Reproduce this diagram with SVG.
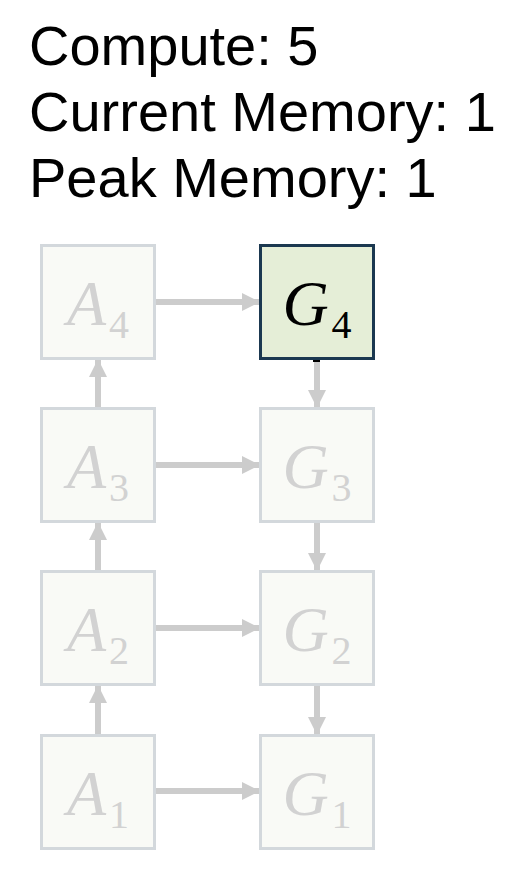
<svg xmlns="http://www.w3.org/2000/svg" width="526" height="870" viewBox="0 0 526 870">
<defs>
<marker id="ah" markerUnits="userSpaceOnUse" markerWidth="18" markerHeight="18" viewBox="0 0 18 18" refX="18" refY="9" orient="auto">
<path d="M0,0 L18,9 L0,18 Z" fill="#cccccc"/>
</marker>
<style>
.hdr{font-family:"Liberation Sans",Arial,sans-serif;font-size:56px;fill:#000}
.box{fill:#f9faf6;stroke:#d3d8dc;stroke-width:3}
.act{fill:#e5eed7;stroke:#1b3850;stroke-width:3}
.lbl{font-family:"Liberation Serif","DejaVu Serif",serif;font-size:64px;font-style:italic;fill:#d2d2d2;text-anchor:middle}
.lbl .sub{font-style:normal;font-size:40px}
.on{fill:#000}
.conn{stroke:#cccccc;stroke-width:6;fill:none;marker-end:url(#ah)}
</style>
</defs>
<text class="hdr" x="29" y="65">Compute: 5</text>
<text class="hdr" x="29" y="131">Current Memory: 1</text>
<text class="hdr" x="29" y="197">Peak Memory: 1</text>
<g id="connectors">
<path class="conn" d="M155,302 H260"/>
<path class="conn" d="M155,465 H260"/>
<path class="conn" d="M155,628 H260"/>
<path class="conn" d="M155,791 H260"/>
<path class="conn" d="M98,408 V359"/>
<path class="conn" d="M98,571 V522"/>
<path class="conn" d="M98,735 V685"/>
<path class="conn" d="M317,359 V408"/>
<path class="conn" d="M317,522 V571"/>
<path class="conn" d="M317,685 V735"/>
<rect x="313" y="359" width="7" height="3" fill="#000"/>
</g>
<g id="A4"><rect class="box" x="41.5" y="245.5" width="113" height="113"/><text class="lbl" x="98" y="325">A<tspan class="sub" dx="3" dy="13">4</tspan></text></g>
<g id="A3"><rect class="box" x="41.5" y="408.5" width="113" height="113"/><text class="lbl" x="98" y="488">A<tspan class="sub" dx="3" dy="13">3</tspan></text></g>
<g id="A2"><rect class="box" x="41.5" y="571.5" width="113" height="113"/><text class="lbl" x="98" y="651">A<tspan class="sub" dx="3" dy="13">2</tspan></text></g>
<g id="A1"><rect class="box" x="41.5" y="735.5" width="113" height="113"/><text class="lbl" x="98" y="815">A<tspan class="sub" dx="3" dy="13">1</tspan></text></g>
<g id="G4"><rect class="act" x="260.5" y="245.5" width="113" height="113"/><text class="lbl on" x="317" y="325">G<tspan class="sub" dx="3" dy="13">4</tspan></text></g>
<g id="G3"><rect class="box" x="260.5" y="408.5" width="113" height="113"/><text class="lbl" x="317" y="488">G<tspan class="sub" dx="3" dy="13">3</tspan></text></g>
<g id="G2"><rect class="box" x="260.5" y="571.5" width="113" height="113"/><text class="lbl" x="317" y="651">G<tspan class="sub" dx="3" dy="13">2</tspan></text></g>
<g id="G1"><rect class="box" x="260.5" y="735.5" width="113" height="113"/><text class="lbl" x="317" y="815">G<tspan class="sub" dx="3" dy="13">1</tspan></text></g>
</svg>
